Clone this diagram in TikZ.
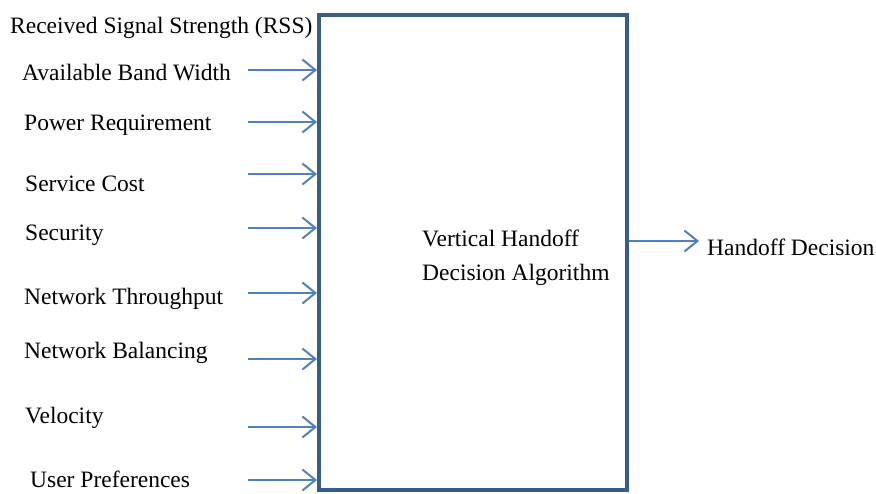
\documentclass[tikz,border=0pt]{standalone}
\usepackage{fontspec}
\setmainfont{Liberation Serif}
\usetikzlibrary{arrows.meta}
\definecolor{boxblue}{RGB}{56,93,138}
\definecolor{arrowblue}{RGB}{79,129,189}
\begin{document}
\begin{tikzpicture}[x=1pt,y=-1pt,
  lbl/.style={anchor=base west,inner sep=0pt,font=\fontsize{23.5}{34}\selectfont},
  arr/.style={draw=arrowblue,line width=2pt,-{Straight Barb[length=13pt,width=21pt,line width=2pt]}},
  mainbox/.style={draw=boxblue,line width=4pt,minimum width=308pt,minimum height=475pt,inner sep=0pt}]
\useasboundingbox (0,0) rectangle (876,493);
% central block
\node[mainbox] (alg) at (473,252.5) {};
\node[lbl,align=left] (algtxt) at (422,280) {Vertical Handoff\\Decision Algorithm};
% input parameters
\node[lbl] (rss) at (10,33) {Received Signal Strength (RSS)};
\node[lbl] (bw)  at (22,80) {Available Band Width};
\node[lbl] (pw)  at (24,130) {Power Requirement};
\node[lbl] (sc)  at (25,191) {Service Cost};
\node[lbl] (sec) at (25,240) {Security};
\node[lbl] (nt)  at (24,304) {Network Throughput};
\node[lbl] (nb)  at (24,358) {Network Balancing};
\node[lbl] (vel) at (25,423) {Velocity};
\node[lbl] (up)  at (30,487) {User Preferences};
% input arrows
\foreach \n/\y in {a1/70,a2/122,a3/174,a4/228,a5/293,a6/359,a7/427,a8/480}{
  \coordinate (\n) at (248,\y);
  \draw[arr] (\n) -- (\n -| alg.west);
}
% output
\node[lbl] (out) at (707,255) {Handoff Decision};
\coordinate (o1) at (alg.east |- 0,241);
\coordinate (o2) at (699,241);
\draw[arr] (o1) -- (o2);
\end{tikzpicture}
\end{document}
